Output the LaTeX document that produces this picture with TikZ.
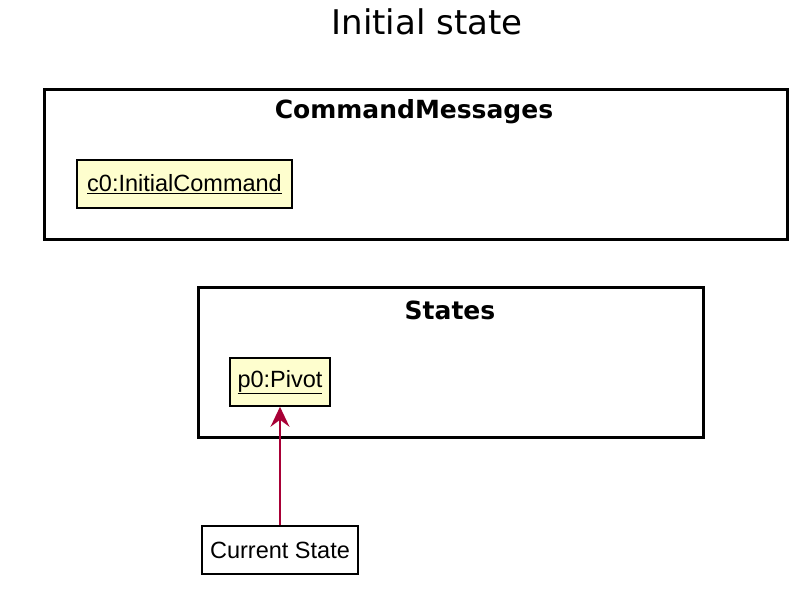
\documentclass[tikz,border=0pt]{standalone}
\usepackage{fontspec}
\setmainfont{Liberation Sans}
\newfontfamily\titlefont{DejaVu Sans}
\usetikzlibrary{arrows.meta}
\definecolor{objfill}{HTML}{FEFECE}
\definecolor{arrowred}{HTML}{A80036}
\tikzset{
  objbox/.style={draw=black, line width=1.6pt, fill=objfill, inner sep=0pt, font=\fontsize{23.5}{26}\selectfont},
  notebox/.style={draw=black, line width=1.6pt, fill=white, inner sep=0pt, font=\fontsize{23.5}{26}\selectfont},
  pkg/.style={draw=black, line width=3pt},
  pkgtitle/.style={font=\titlefont\bfseries\fontsize{25}{28}\selectfont, inner sep=0pt},
  link/.style={draw=arrowred, line width=2pt, -{Stealth[length=20pt,width=19pt,inset=7pt]}}
}
\begin{document}
\begin{tikzpicture}[x=1pt,y=-1pt]
\useasboundingbox (0,0) rectangle (806,593);
\node[font=\titlefont\fontsize{34}{38}\selectfont, inner sep=0pt] (title) at (427,22) {Initial state};
\draw[pkg] (44,90) rectangle (787,240);
\node[pkgtitle] (cmTitle) at (414,112) {CommandMessages};
\node[objbox, minimum width=215pt, minimum height=48pt] (c0) at (184.5,184) {\underline{c0:InitialCommand}};
\draw[pkg] (198,288) rectangle (703,438);
\node[pkgtitle] (stTitle) at (450,310) {States};
\node[objbox, minimum width=100pt, minimum height=48pt] (p0) at (280,382) {\underline{p0:Pivot}};
\node[notebox, minimum width=156pt, minimum height=48pt] (cur) at (280,550) {Current State};
\draw[link] (cur.north) -- (p0.south);
\end{tikzpicture}
\end{document}
